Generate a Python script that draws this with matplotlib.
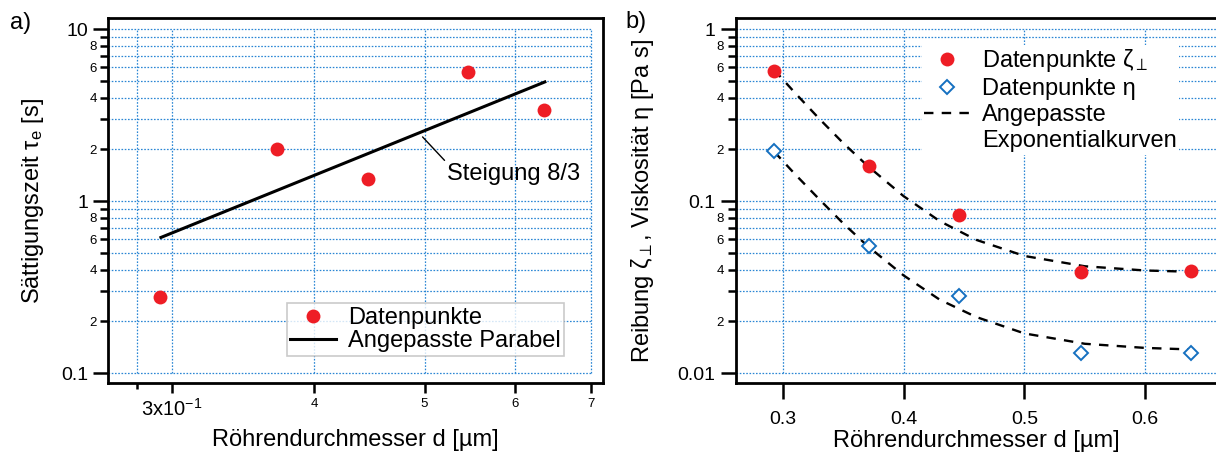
import matplotlib
matplotlib.use("Agg")
import matplotlib.pyplot as plt
from matplotlib.lines import Line2D

plt.rcParams['font.family'] = ['Liberation Sans', 'DejaVu Sans']
plt.rcParams['mathtext.fontset'] = 'custom'
plt.rcParams['mathtext.rm'] = 'Liberation Sans'
plt.rcParams['mathtext.it'] = 'Liberation Sans:italic'
plt.rcParams['mathtext.bf'] = 'Liberation Sans:bold'
plt.rcParams['mathtext.fallback'] = 'stixsans'

# ---- data: panel a) ----
d_a = [0.293, 0.371, 0.446, 0.546, 0.637]
tau_e = [0.278, 2.0, 1.34, 5.62, 3.38]
fit_d_a = [0.2936, 0.6375]
fit_tau = [0.615, 4.94]

# ---- data: panel b) ----
d_b = [0.293, 0.371, 0.446, 0.547, 0.638]
zeta = [0.572, 0.160, 0.0832, 0.0387, 0.0390]
eta = [0.197, 0.0545, 0.0281, 0.0130, 0.0131]
fit_d_b = [0.293, 0.31, 0.33, 0.35, 0.37, 0.40, 0.43, 0.46, 0.50, 0.55, 0.60, 0.64]
fit_zeta = [0.580, 0.428, 0.303, 0.218, 0.161, 0.107, 0.0765, 0.0596, 0.0480, 0.0418, 0.0395, 0.0388]
fit_eta = [0.194, 0.144, 0.103, 0.0743, 0.0550, 0.0370, 0.0267, 0.0212, 0.0170, 0.0148, 0.0140, 0.0137]

# ticks
xa_major = [0.3, 0.4, 0.5, 0.6, 0.7]
xa_labels = [r'3x10$^{\mathregular{-1}}$', '4', '5', '6', '7']
xa_minor = [0.28]
xb_major = [0.3, 0.4, 0.5, 0.6]
xb_labels = ['0.3', '0.4', '0.5', '0.6']
mant = [2, 3, 4, 5, 6, 7, 8, 9]
mant_labels = ['2', '', '4', '', '6', '', '8', '']

RED = '#ee1d25'
BLUE = '#1570c0'
GRID = '#2a86d4'
W, H = 1216, 459

fig = plt.figure(figsize=(W / 100, H / 100), dpi=100)
ax1 = fig.add_axes([108.3 / W, 1 - 383 / H, (602.7 - 108.3) / W, (383 - 18.3) / H])
ax2 = fig.add_axes([735.7 / W, 1 - 383 / H, (1217.5 - 735.7) / W, (383 - 18.3) / H])


def style_y(ax, lo_exp):
    majors = [10.0 ** (lo_exp + i) for i in range(3)]
    maj_lab = ['%g' % m for m in majors]
    minors, min_lab = [], []
    for k in range(2):
        for m, l in zip(mant, mant_labels):
            minors.append(m * 10.0 ** (lo_exp + k))
            min_lab.append(l)
    ax.set_yscale('log')
    ax.set_yticks(majors, maj_lab)
    ax.set_yticks(minors, min_lab, minor=True)
    ax.tick_params(axis='y', which='major', labelsize=14, length=11, width=1.8, pad=3.5)
    ax.tick_params(axis='y', which='minor', labelsize=9.5, length=6, width=1.8, pad=2.4)
    ax.set_ylim(10.0 ** (lo_exp - 0.058), 10.0 ** (lo_exp + 2.064))
    return majors + minors


for ax in (ax1, ax2):
    for s in ax.spines.values():
        s.set_linewidth(2.0)

# ---------- panel a ----------
ax1.set_xscale('log')
ya = style_y(ax1, -1)
ax1.set_xlim(0.264, 0.7165)
ax1.set_xticks(xa_major, xa_labels)
ax1.set_xticks(xa_minor, [''], minor=True)
ax1.tick_params(axis='x', which='major', length=7.5, width=1.8, pad=3)
ax1.tick_params(axis='x', which='minor', length=4, width=1.8)
for i, t in enumerate(ax1.get_xticklabels()):
    t.set_fontsize(14.5 if i == 0 else 9.5)
ax1.hlines(ya, 0.264, 0.7, colors=GRID, lw=0.9, linestyles=(0, (1.3, 1.3)), zorder=0)
ax1.vlines(xa_minor + xa_major, 0.1, 10, colors=GRID, lw=0.9, linestyles=(0, (1.3, 1.3)), zorder=0)

ax1.plot(d_a, tau_e, 'o', color=RED, ms=10, mec='none', label='Datenpunkte', zorder=3)
ax1.plot(fit_d_a, fit_tau, '-', color='black', lw=2.2, label='Angepasste Parabel', zorder=2)
ax1.annotate('Steigung 8/3', xy=(0.498, 2.365), xytext=(0.5227, 1.436),
             fontsize=17, ha='left', va='center',
             arrowprops=dict(arrowstyle='-', lw=1.0, color='black',
                             shrinkA=0, shrinkB=0, relpos=(0.02, 0.9)))
ax1.set_xlabel('Röhrendurchmesser d [µm]', fontsize=17)
ax1.xaxis.set_label_coords(0.5, -0.125)
ax1.set_ylabel(r'Sättigungszeit τ$_\mathregular{e}$ [s]', fontsize=17)
ax1.yaxis.set_label_coords(-0.125, 0.5)
leg1 = ax1.legend(loc='upper left', bbox_to_anchor=(286.7 / W, 1 - 303.3 / H),
                  bbox_transform=fig.transFigure, fontsize=17, frameon=True,
                  fancybox=False, edgecolor='#bdbdbd', borderpad=0.15,
                  labelspacing=0.05, handlelength=1.95, handletextpad=0.5,
                  borderaxespad=0)
leg1.get_frame().set_linewidth(1.2)

# ---------- panel b ----------
yb = style_y(ax2, -2)
ax2.set_xlim(0.2611, 0.6598)
ax2.set_xticks(xb_major, xb_labels)
ax2.tick_params(axis='x', which='major', labelsize=14, length=11.5, width=1.8, pad=9)
ax2.hlines(yb, 0.2611, 0.66, colors=GRID, lw=0.9, linestyles=(0, (1.3, 1.3)), zorder=0)
ax2.vlines(xb_major, 0.01, 1, colors=GRID, lw=0.9, linestyles=(0, (1.3, 1.3)), zorder=0)

ax2.plot(fit_d_b, fit_zeta, color='black', lw=1.7, ls=(0, (4, 3.5)), zorder=2)
ax2.plot(fit_d_b, fit_eta, color='black', lw=1.7, ls=(0, (4, 3.5)), zorder=2)
ax2.plot(d_b, zeta, 'o', color=RED, ms=10, mec='none', zorder=3)
ax2.plot(d_b, eta, 'D', mfc='white', mec=BLUE, mew=1.4, ms=7.5, zorder=3)
ax2.set_xlabel('Röhrendurchmesser d [µm]', fontsize=17)
ax2.xaxis.set_label_coords(0.5, -0.13)
ax2.set_ylabel(r'Reibung ζ$_{\perp}$, Viskosität η [Pa s]', fontsize=17)
ax2.yaxis.set_label_coords(-0.165, 0.5)

handles = [
    Line2D([], [], ls='none', marker='o', color=RED, ms=10, mec='none'),
    Line2D([], [], ls='none', marker='D', mfc='white', mec=BLUE, mew=1.4, ms=7.5),
    Line2D([], [], color='black', lw=1.7, ls=(0, (4, 3.5))),
    Line2D([], [], ls='none'),
]
labels = [r'Datenpunkte ζ$_{\perp}$', 'Datenpunkte η', 'Angepasste', 'Exponentialkurven']
leg2 = ax2.legend(handles, labels, loc='upper left', bbox_to_anchor=(921.7 / W, 1 - 45 / H),
                  bbox_transform=fig.transFigure, fontsize=17, frameon=True,
                  fancybox=False, edgecolor='none', facecolor='white', framealpha=1,
                  borderpad=0.1, labelspacing=0.17, handlelength=1.95,
                  handletextpad=0.5, borderaxespad=0)

fig.text(21 / W, 1 - 23 / H, 'a)', fontsize=17, ha='center', va='center')
fig.text(636 / W, 1 - 22 / H, 'b)', fontsize=17, ha='center', va='center')

fig.savefig('out.png', dpi=100)
